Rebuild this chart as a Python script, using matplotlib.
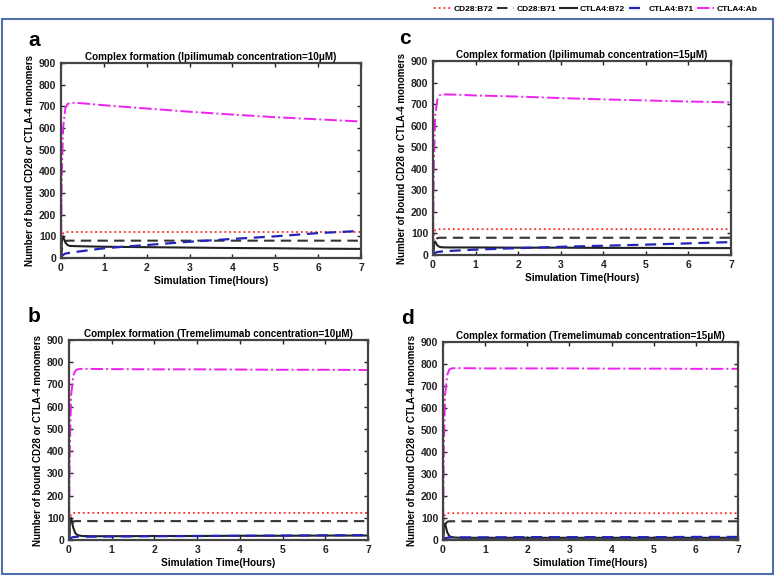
import numpy as np
import matplotlib.pyplot as plt
from matplotlib.lines import Line2D
from matplotlib.patches import Rectangle

plt.rcParams['font.family'] = ['Liberation Sans', 'DejaVu Sans']
plt.rcParams['font.weight'] = 'bold'
plt.rcParams['xtick.direction'] = 'in'
plt.rcParams['ytick.direction'] = 'in'
plt.rcParams['xtick.top'] = True
plt.rcParams['ytick.right'] = True

# time points (hours)
t = [0, 0.02, 0.05, 0.1, 0.15, 0.2, 0.3, 0.5, 1, 2, 3, 4, 5, 6, 7]

# panel a: Ipilimumab 10uM
a_cd28_b72 = [0, 90, 115, 120, 120, 120, 120, 120, 120, 120, 120, 120, 120, 120, 120]
a_cd28_b71 = [0, 40, 65, 78, 80, 80, 80, 80, 80, 80, 80, 80, 80, 80, 80]
a_ctla4_b72 = [0, 80, 100, 72, 60, 56, 55, 54, 52, 50, 48, 46, 45, 43, 42]
a_ctla4_b71 = [0, 8, 15, 20, 22, 24, 27, 32, 45, 60, 75, 88, 100, 115, 125]
a_ctla4_ab = [0, 400, 600, 690, 710, 715, 716, 714, 705, 690, 675, 662, 650, 640, 630]

# panel c: Ipilimumab 15uM
c_cd28_b72 = [0, 90, 115, 120, 120, 120, 120, 120, 120, 120, 120, 120, 120, 120, 120]
c_cd28_b71 = [0, 40, 65, 78, 80, 80, 80, 80, 80, 80, 80, 80, 80, 80, 80]
c_ctla4_b72 = [0, 50, 62, 45, 38, 36, 35, 35, 35, 34, 34, 33, 33, 32, 32]
c_ctla4_b71 = [0, 5, 10, 14, 15, 16, 18, 20, 25, 32, 38, 43, 48, 54, 60]
c_ctla4_ab = [0, 420, 640, 720, 740, 745, 745, 744, 740, 735, 728, 722, 717, 712, 708]

# panel b: Tremelimumab 10uM
b_cd28_b72 = [0, 92, 118, 122, 122, 122, 122, 122, 122, 122, 122, 122, 122, 122, 122]
b_cd28_b71 = [0, 45, 70, 83, 85, 85, 85, 85, 85, 85, 85, 85, 85, 85, 85]
b_ctla4_b72 = [0, 80, 100, 55, 30, 22, 18, 17, 17, 18, 18, 19, 19, 20, 20]
b_ctla4_b71 = [0, 6, 10, 13, 14, 15, 15, 15, 16, 17, 18, 19, 20, 21, 22]
b_ctla4_ab = [0, 420, 650, 740, 762, 768, 770, 770, 769, 768, 768, 767, 766, 766, 765]

# panel d: Tremelimumab 15uM
d_cd28_b72 = [0, 92, 118, 122, 122, 122, 122, 122, 122, 122, 122, 122, 122, 122, 122]
d_cd28_b71 = [0, 45, 70, 83, 85, 85, 85, 85, 85, 85, 85, 85, 85, 85, 85]
d_ctla4_b72 = [0, 60, 75, 35, 18, 13, 11, 10, 10, 10, 10, 10, 10, 10, 10]
d_ctla4_b71 = [0, 5, 8, 10, 11, 12, 12, 12, 12, 13, 13, 13, 13, 14, 14]
d_ctla4_ab = [0, 430, 660, 750, 775, 780, 781, 781, 780, 780, 780, 779, 779, 778, 778]

names = ['CD28:B72', 'CD28:B71', 'CTLA4:B72', 'CTLA4:B71', 'CTLA4:Ab']
styles = [
    dict(color='#ff2a2a', ls=':', lw=1.3),
    dict(color='#333333', ls=(0, (5, 3)), lw=1.5),
    dict(color='#222222', ls='-', lw=1.5),
    dict(color='#2323b8', ls=(0, (5, 3)), lw=1.6),
    dict(color='#ee22ee', ls='-.', lw=1.4),
]

# letter, title, axes box (px: left, top, width, height), letter pos (px), series
panels = [
    ('a', 'Complex formation (Ipilimumab concentration=10\u03bcM)', [61, 63, 300, 195], (28, 40),
     [a_cd28_b72, a_cd28_b71, a_ctla4_b72, a_ctla4_b71, a_ctla4_ab]),
    ('c', 'Complex formation (Ipilimumab concentration=15\u03bcM)', [433, 61, 298, 194], (399, 39),
     [c_cd28_b72, c_cd28_b71, c_ctla4_b72, c_ctla4_b71, c_ctla4_ab]),
    ('b', 'Complex formation (Tremelimumab concentration=10\u03bcM)', [69, 340, 299, 200], (28, 317),
     [b_cd28_b72, b_cd28_b71, b_ctla4_b72, b_ctla4_b71, b_ctla4_ab]),
    ('d', 'Complex formation (Tremelimumab concentration=15\u03bcM)', [443, 342, 295, 198], (401, 319),
     [d_cd28_b72, d_cd28_b71, d_ctla4_b72, d_ctla4_b71, d_ctla4_ab]),
]

W, H = 778, 579
fig = plt.figure(figsize=(W / 100, H / 100), dpi=100)

for letter, title, (px, py, pw, ph), (lx, ly), series in panels:
    ax = fig.add_axes([px / W, 1 - (py + ph) / H, pw / W, ph / H])
    for vals, st in zip(series, styles):
        ax.plot(t, vals, **st)
    ax.set_xlim(0, 7)
    ax.set_ylim(0, 900)
    ax.set_xticks(range(0, 8))
    ax.set_yticks(range(0, 901, 100))
    ax.tick_params(labelsize=7.5, length=3, width=1, colors='#222222')
    for s in ax.spines.values():
        s.set_linewidth(1.6)
        s.set_color('#444444')
    ax.set_title(title, fontsize=7.1, fontweight='bold', pad=2)
    ax.set_xlabel('Simulation Time(Hours)', fontsize=7.3, fontweight='bold', labelpad=2)
    ax.set_ylabel('Number of bound CD28 or CTLA-4 monomers', fontsize=7.0,
                  fontweight='bold', labelpad=3)
    fig.text(lx / W, 1 - ly / H, letter, fontsize=15,
             fontweight='bold', va='center', ha='left')

# outer frame
fig.patches.append(Rectangle((2 / W, 1 - 574 / H), 771 / W, 555 / H,
                             transform=fig.transFigure, fill=False,
                             edgecolor='#4f6fa8', lw=1.5))

handles = [Line2D([], [], **st) for st in styles]
fig.legend(handles, names, loc='center right', bbox_to_anchor=(762 / W, 1 - 9 / H),
           ncol=5, frameon=False, fontsize=6, handlelength=2.0,
           handletextpad=0.4, columnspacing=0.4, borderpad=0)

fig.savefig('out.png', dpi=100)
